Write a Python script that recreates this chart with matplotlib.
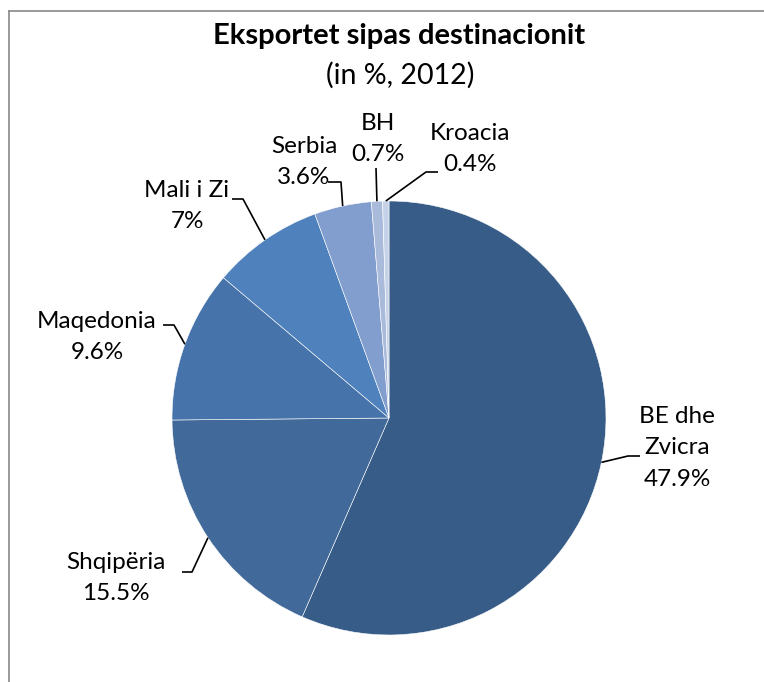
import numpy as np
import matplotlib
matplotlib.use("Agg")
import matplotlib.pyplot as plt
from matplotlib.lines import Line2D

plt.rcParams["font.family"] = ["Lato", "DejaVu Sans"]

# data
countries = ["BE dhe\nZvicra", "Shqipëria", "Maqedonia", "Mali i Zi", "Serbia", "BH", "Kroacia"]
shares = [47.9, 15.5, 9.6, 7, 3.6, 0.7, 0.4]
colors = ["#375C87", "#416A9B", "#4674AA", "#4F81BD", "#829ECF", "#A9BADB", "#C6D2E8"]

# layout (pixel coords, y downward): text centre, elbow, end of horizontal stub
label_pos = [(677, 448), (116, 578), (97, 337), (187, 206), (304, 162), (378, 139), (470, 149)]
elbows = [(628, 456), (192, 572), (174, 325), (243, 199), (341, 182), (376, 168), (426, 172)]
stubs = [(640, 456), (182, 572), (163, 325), (232, 199), (328, 182), None, (438, 172)]

W, H = 764, 682
CX, CY, R = 389, 418, 217


def fy(y):
    return H - y


fig = plt.figure(figsize=(W / 100, H / 100), dpi=100)
ax = fig.add_axes([0, 0, 1, 1])

wedges, _ = ax.pie(shares, colors=colors, startangle=90, counterclock=False,
                   center=(CX, fy(CY)), radius=R,
                   wedgeprops=dict(edgecolor="white", linewidth=0.4))
# pie() resets the limits, so set them afterwards
ax.set_xlim(0, W)
ax.set_ylim(0, H)
ax.set_aspect("equal")
ax.axis("off")

for i, w in enumerate(wedges):
    mid = np.deg2rad((w.theta1 + w.theta2) / 2)
    ex = CX + R * np.cos(mid)
    ey = fy(CY) + R * np.sin(mid)
    xs = [ex, elbows[i][0]]
    ys = [ey, fy(elbows[i][1])]
    if stubs[i] is not None:
        xs.append(stubs[i][0])
        ys.append(fy(stubs[i][1]))
    ax.plot(xs, ys, color="black", lw=1.2, solid_capstyle="butt")
    val = f"{shares[i]:g}%"
    ax.text(label_pos[i][0], fy(label_pos[i][1]), f"{countries[i]}\n{val}",
            ha="center", va="center", fontsize=17.5, linespacing=1.6)

ax.text(399, fy(36), "Eksportet sipas destinacionit", ha="center", va="center",
        fontsize=21, fontweight="bold")
ax.text(400, fy(75), "(in %, 2012)", ha="center", va="center", fontsize=20.5)

# chart border (top + left visible)
fig.add_artist(Line2D([8.5 / W, 1], [1 - 10.5 / H, 1 - 10.5 / H], color="#888888", lw=1.2))
fig.add_artist(Line2D([8.5 / W, 8.5 / W], [0, 1 - 10.5 / H], color="#888888", lw=1.2))

fig.savefig("out.png", dpi=100)
